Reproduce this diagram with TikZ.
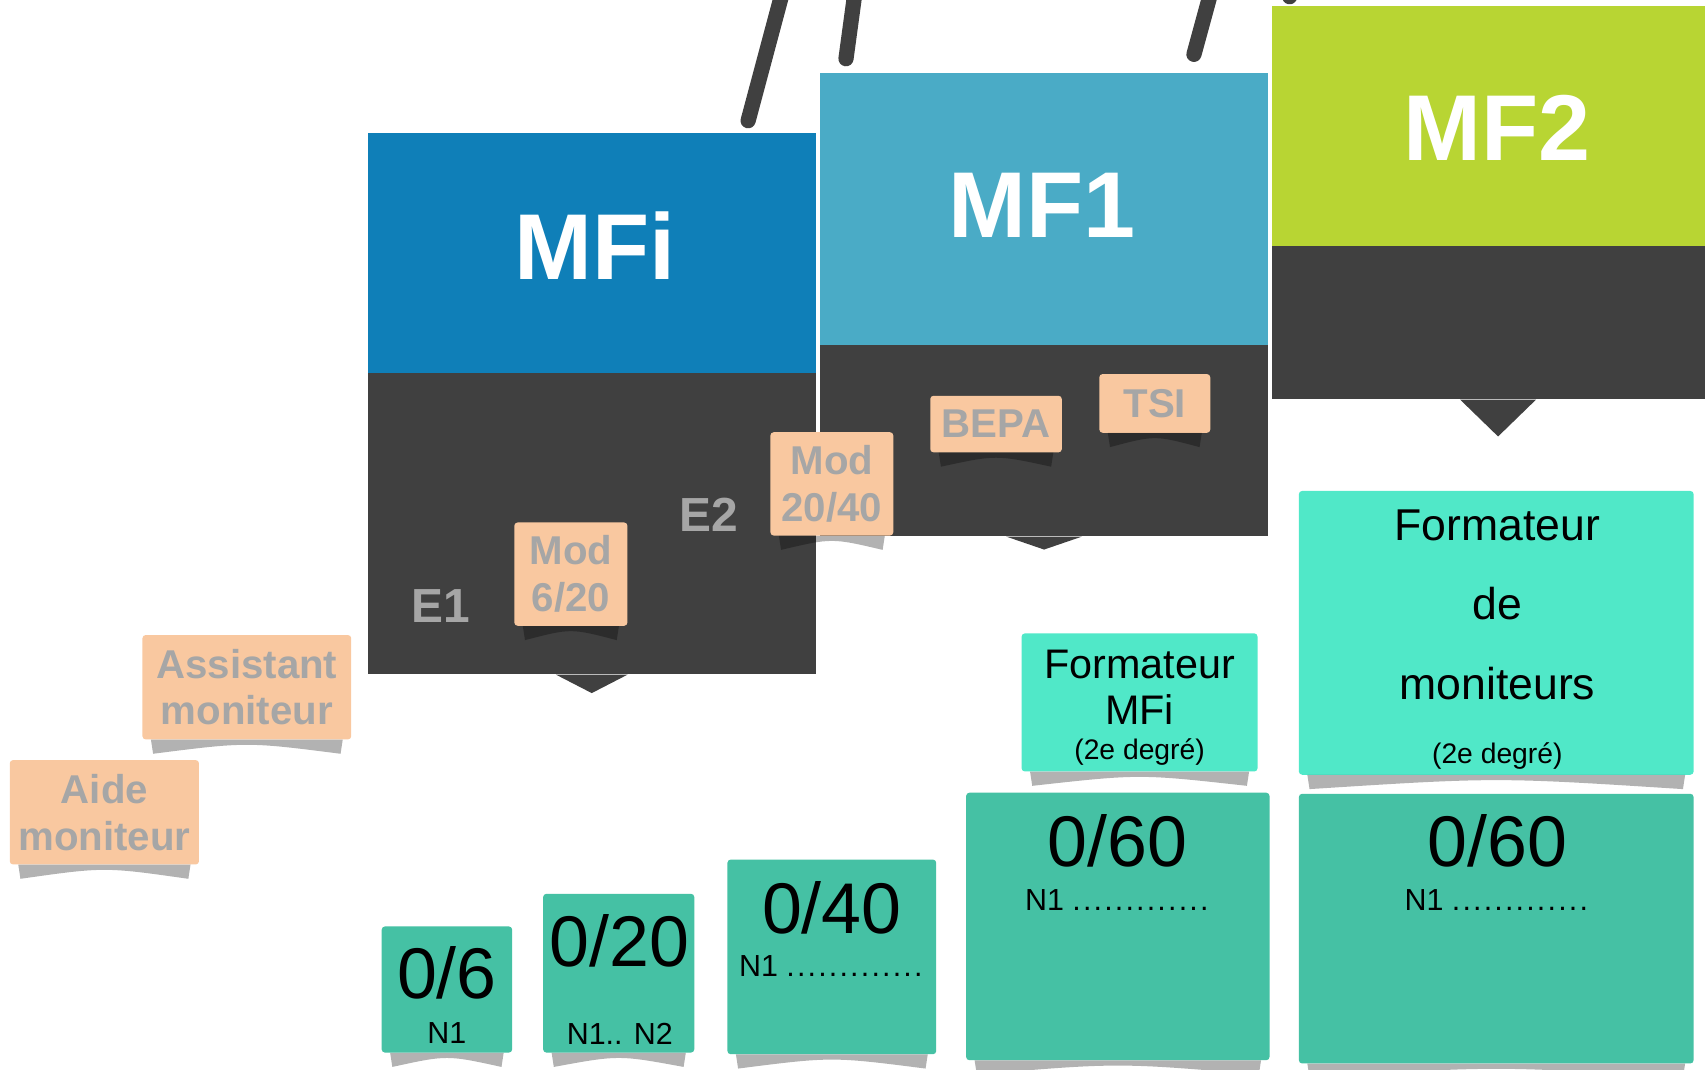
\documentclass[tikz,border=0pt]{standalone}
\usepackage{fontspec}
\setmainfont{Liberation Sans}
\usepackage{xcolor}
\definecolor{ocean}{HTML}{0F7FB8}
\definecolor{sky}{HTML}{4AABC6}
\definecolor{lime}{HTML}{B8D533}
\definecolor{slate}{HTML}{404040}
\definecolor{peach}{HTML}{F9C8A0}
\definecolor{ash}{HTML}{A6A6A6}
\definecolor{jade}{HTML}{45C1A4}
\definecolor{mint}{HTML}{50E8C8}
\newcommand{\dotrow}{N1 \foreach \i in {1,...,13}{.\kern2pt}}

\begin{document}
\begin{tikzpicture}[x=1pt,y=-1pt,
  header/.style={inner sep=0pt},
  title/.style={text=white,font=\fontsize{86}{86}\selectfont\bfseries},
  panel/.style={fill=slate,inner sep=0pt},
  stick/.style={draw=slate,line width=14pt,line cap=round},
  tag/.style={fill=peach,rounded corners=3pt,inner sep=0pt,text=ash,align=center,font=\fontsize{37}{43}\selectfont\bfseries},
  stage/.style={text=ash,font=\fontsize{44}{44}\selectfont\bfseries},
  card/.style={fill=jade,rounded corners=3pt,inner sep=0pt},
  bignum/.style={font=\fontsize{66}{66}\selectfont},
  level/.style={font=\fontsize{28}{28}\selectfont},
  role/.style={align=center,font=\fontsize{38}{43}\selectfont},
  grade/.style={font=\fontsize{26}{26}\selectfont},
  curl/.style={fill=black,opacity=0.3}]
  \useasboundingbox (0,0) rectangle (1568,984);
  \fill[white] (0,0) rectangle (1568,984);

  % hanging sticks
  \draw[stick] (719,-5) -- (688,111);
  \draw[stick] (786,-5) -- (778,54);
  \draw[stick] (1113,-5) -- (1098,50);
  \draw[stick] (1189,-20) -- (1186,-3);

  % the three levels
  \node[panel,minimum width=412pt,minimum height=279pt,anchor=north west] (mfibody) at (338,341) {};
  \fill[slate] ([xshift=-33pt]mfibody.south) -- ++(33,17) -- ++(33,-17) -- cycle;
  \node[header,fill=ocean,minimum width=412pt,minimum height=221pt,anchor=north west] (mfi) at (338,122) {};
  \node[title] (mfititle) at (547,226) {MFi};

  \node[panel,minimum width=412pt,minimum height=178pt,anchor=north west] (mfonebody) at (754,315) {};
  \fill[slate] ([xshift=-35pt]mfonebody.south) -- ++(35,12) -- ++(35,-12) -- cycle;
  \node[header,fill=sky,minimum width=412pt,minimum height=250pt,anchor=north west] (mfone) at (754,67) {};
  \node[title] (mfonetitle) at (958,189) {MF1};

  \node[panel,minimum width=415pt,minimum height=143pt,anchor=north west] (mftwobody) at (1170,224) {};
  \fill[slate] ([xshift=-35pt]mftwobody.south) -- ++(35,34) -- ++(35,-34) -- cycle;
  \node[header,fill=lime,minimum width=415pt,minimum height=221pt,anchor=north west] (mftwo) at (1170,5) {};
  \node[title] (mftwotitle) at (1377,118) {MF2};

  % stages and modules
  \node[stage] (eone) at (405,557) {E1};
  \node[stage] (etwo) at (652,473) {E2};
  \node[tag,minimum width=192pt,minimum height=96pt] (assist) at (227,632) {Assistant\\moniteur};
  \node[tag,minimum width=174pt,minimum height=96pt] (aide) at (96,747) {Aide\\moniteur};
  \node[tag,minimum width=104pt,minimum height=95pt] (modone) at (525,528) {Mod\\6/20};
  \node[tag,minimum width=113pt,minimum height=95pt] (modtwo) at (765,445) {Mod\\20/40};
  \node[tag,minimum width=121pt,minimum height=52pt] (bepa) at (916,390) {BEPA};
  \node[tag,minimum width=102pt,minimum height=54pt] (tsi) at (1062,371) {TSI};

  % dive counts
  \node[card,minimum width=120pt,minimum height=116pt] (csix) at (411,910) {};
  \node[bignum] (csixnum) at (411,895) {0/6};
  \node[level] (csixlvl) at (411,950) {N1};
  \node[card,minimum width=139pt,minimum height=146pt] (ctwenty) at (569,895) {};
  \node[bignum] (ctwentynum) at (570,865) {0/20};
  \node[level] (ctwentylvl) at (570,951) {N1.. N2};
  \node[card,minimum width=192pt,minimum height=179pt] (cforty) at (765,880) {};
  \node[bignum] (cfortynum) at (765,835) {0/40};
  \node[level] (cfortylvl) at (765,888) {\dotrow};
  \node[card,minimum width=279pt,minimum height=246pt] (csixtya) at (1028,852) {};
  \node[bignum] (csixtyanum) at (1028,773) {0/60};
  \node[level] (csixtyalvl) at (1028,828) {\dotrow};
  \node[card,minimum width=363pt,minimum height=248pt] (csixtyb) at (1376,854) {};
  \node[bignum] (csixtybnum) at (1377,773) {0/60};
  \node[level] (csixtyblvl) at (1377,828) {\dotrow};

  % trainer roles
  \node[card,fill=mint,minimum width=217pt,minimum height=127pt] (fmfi) at (1048,646) {};
  \node[role] (fmfitext) at (1048,632) {Formateur\\MFi};
  \node[grade] (fmfigrade) at (1048,692) {(2e degré)};
  \node[card,fill=mint,minimum width=363pt,minimum height=261pt] (fmon) at (1376,582) {};
  \node[role,font=\fontsize{41}{73}\selectfont] (fmontext) at (1377,556) {Formateur\\de\\moniteurs};
  \node[grade] (fmongrade) at (1377,695) {(2e degré)};

  % curled paper shadows
  \foreach \n in {assist,aide,modone,modtwo,bepa,tsi,csix,ctwenty,cforty,csixtya,csixtyb,fmfi,fmon}
    \fill[curl] ([xshift=8pt]\n.south west) -- ([xshift=10pt,yshift=-13pt]\n.south west)
      .. controls ([yshift=-2pt]\n.south) and ([yshift=-2pt]\n.south) .. ([xshift=-10pt,yshift=-13pt]\n.south east)
      -- ([xshift=-8pt]\n.south east) -- cycle;
\end{tikzpicture}
\end{document}
